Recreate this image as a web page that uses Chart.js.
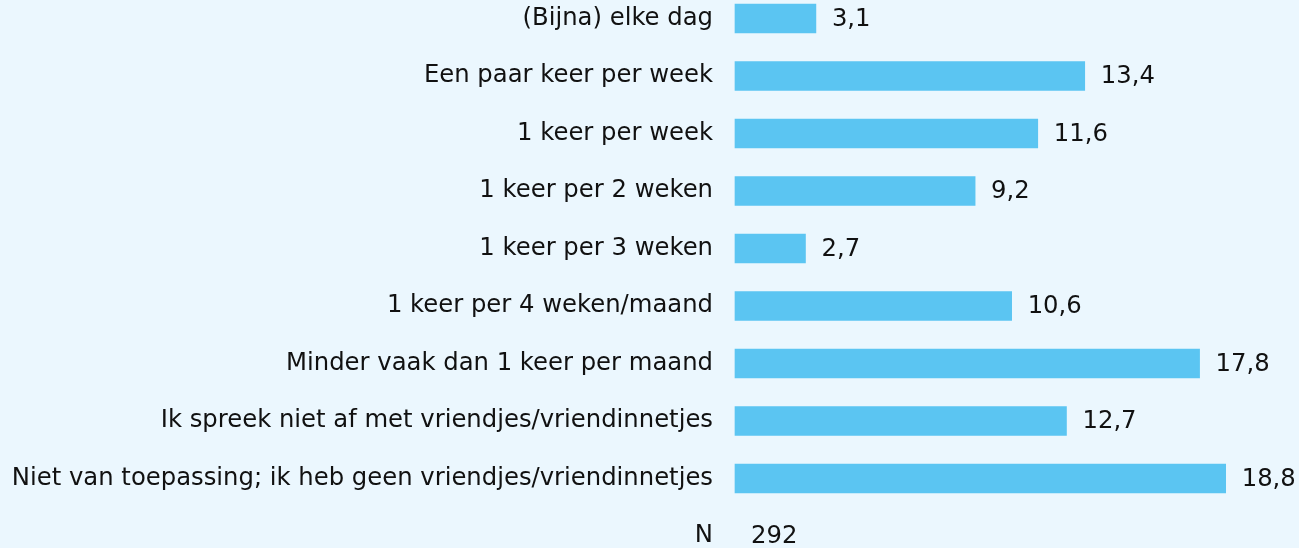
<!DOCTYPE html>
<html>
<head>
<meta charset="utf-8">
<script src="https://cdn.jsdelivr.net/npm/chart.js@4/dist/chart.umd.min.js"></script>
<style>
  html, body { margin: 0; padding: 0; background: #ebf7fe; }
  #wrap { width: 1299px; height: 548px; }
</style>
</head>
<body>
<div id="wrap"><canvas id="chart" width="1299" height="548"></canvas></div>
<script>
// Categories (top to bottom) and percentages
const categories = [
    '(Bijna) elke dag',
    'Een paar keer per week',
    '1 keer per week',
    '1 keer per 2 weken',
    '1 keer per 3 weken',
    '1 keer per 4 weken/maand',
    'Minder vaak dan 1 keer per maand',
    'Ik spreek niet af met vriendjes/vriendinnetjes',
    'Niet van toepassing; ik heb geen vriendjes/vriendinnetjes'
];
const values = [3.1, 13.4, 11.6, 9.2, 2.7, 10.6, 17.8, 12.7, 18.8];

// Sample size row shown below the bars
const nLabel = 'N';
const nValue = 292;

const FONT = '"DejaVu Sans", Verdana, sans-serif';
const FONT_SIZE = 24.3;
const BAR_COLOR = '#5bc5f2';
const TEXT_COLOR = '#111111';

const labels = categories.concat([nLabel]);
const data = values.concat([null]);

// Draws value labels next to the bars (Dutch decimal comma)
const valueLabels = {
    id: 'valueLabels',
    afterDatasetsDraw(chart) {
        const ctx = chart.ctx;
        const meta = chart.getDatasetMeta(0);
        const xScale = chart.scales.x;
        const yScale = chart.scales.y;
        ctx.save();
        ctx.font = FONT_SIZE + 'px ' + FONT;
        ctx.fillStyle = TEXT_COLOR;
        ctx.textAlign = 'left';
        ctx.textBaseline = 'middle';
        meta.data.forEach((bar, i) => {
            if (values[i] === undefined) return;
            const txt = values[i].toFixed(1).replace('.', ',');
            ctx.fillText(txt, bar.x + 16, bar.y + 1);
        });
        // N row
        const yN = yScale.getPixelForValue(labels.length - 1);
        ctx.fillText(String(nValue), xScale.getPixelForValue(0) + 16, yN + 1);
        ctx.restore();
    }
};

new Chart(document.getElementById('chart'), {
    type: 'bar',
    data: {
        labels: labels,
        datasets: [{
            data: data,
            backgroundColor: BAR_COLOR,
            borderWidth: 0,
            barThickness: 29,
            clip: false
        }]
    },
    options: {
        indexAxis: 'y',
        responsive: false,
        animation: false,
        layout: {
            padding: { top: 18.5, bottom: 12, left: 0, right: 42 }
        },
        plugins: {
            legend: { display: false },
            tooltip: { enabled: false }
        },
        scales: {
            x: {
                display: false,
                min: 0,
                max: 20
            },
            y: {
                offset: false,
                grid: { display: false, offset: false },
                border: { display: false },
                ticks: {
                    color: TEXT_COLOR,
                    font: { family: FONT, size: FONT_SIZE },
                    padding: 14,
                    autoSkip: false
                },
                afterFit(scale) {
                    scale.width = 735;
                    // first/last rows sit right at the chart area edges
                    scale.paddingTop = 0;
                    scale.paddingBottom = 0;
                }
            }
        }
    },
    plugins: [valueLabels]
});
</script>
</body>
</html>
